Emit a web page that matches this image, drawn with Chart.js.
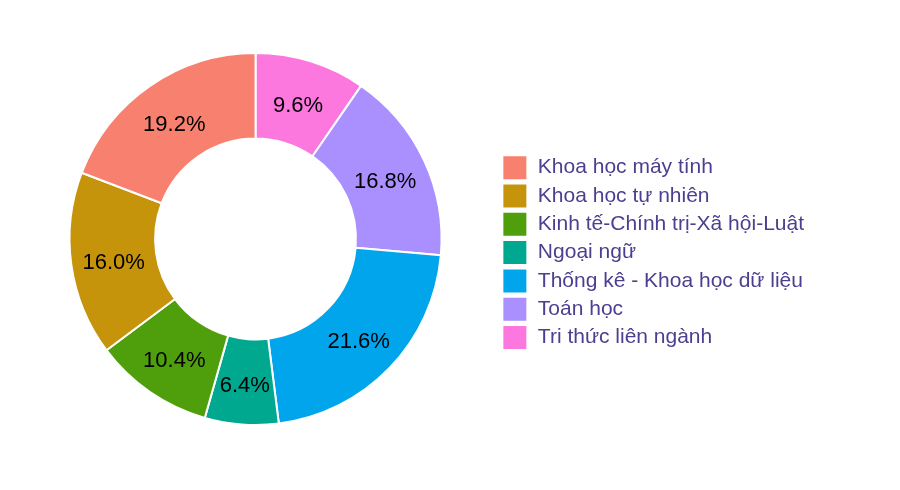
<!doctype html>
<html>
<head>
    <meta charset="UTF-8">
    <title>Donut chart</title>
    <style>
        body { margin: 0; background: #fff; }
    </style>
</head>
<body>
<canvas id="myCanvas" width="900" height="490"></canvas>
<script src="https://cdn.jsdelivr.net/npm/chart.js@4.4.1/dist/chart.umd.min.js"></script>
<script>
    // legend order (ggplot draws these counter-clockwise from 12 o'clock)
    const categories = [
        'Khoa học máy tính',
        'Khoa học tự nhiên',
        'Kinh tế-Chính trị-Xã hội-Luật',
        'Ngoại ngữ',
        'Thống kê - Khoa học dữ liệu',
        'Toán học',
        'Tri thức liên ngành'
    ];
    const percents = [19.2, 16.0, 10.4, 6.4, 21.6, 16.8, 9.6];
    const colors = ['#F8806F', '#C6940A', '#4E9F0B', '#00A88F', '#00A5EC', '#AA8FFF', '#FC77DE'];

    // chart.js goes clockwise, so feed it reversed and flip the legend back
    const labelsRev = categories.slice().reverse();
    const valuesRev = percents.slice().reverse();
    const colorsRev = colors.slice().reverse();

    const sliceLabels = {
        id: 'sliceLabels',
        afterDatasetsDraw(chart) {
            const ctx = chart.ctx;
            const meta = chart.getDatasetMeta(0);
            ctx.save();
            ctx.font = '22px "Liberation Sans", Arial, sans-serif';
            ctx.fillStyle = '#000';
            ctx.textAlign = 'center';
            ctx.textBaseline = 'middle';
            meta.data.forEach(function(arc, i) {
                const p = arc.getCenterPoint();
                ctx.fillText(valuesRev[i].toFixed(1) + '%', p.x, p.y + 4);
            });
            ctx.restore();
        }
    };

    const ctx = document.getElementById('myCanvas').getContext('2d');
    const myChart = new Chart(ctx, {
        type: 'doughnut',
        data: {
            labels: labelsRev,
            datasets: [{
                data: valuesRev,
                backgroundColor: colorsRev,
                borderColor: '#fff',
                borderWidth: 2
            }]
        },
        options: {
            responsive: false,
            animation: false,
            cutout: '54%',
            layout: { padding: { left: 12, right: 86, top: 52, bottom: 64 } },
            plugins: {
                tooltip: { enabled: false },
                legend: {
                    position: 'right',
                    reverse: true,
                    // empty title only to push the key down a little
                    title: { display: true, text: '', font: { size: 1 }, padding: { top: 26, bottom: 0 } },
                    labels: {
                        color: '#4B3F8F',
                        font: { family: '"Liberation Sans", Arial, sans-serif', size: 21 },
                        boxWidth: 25,
                        boxHeight: 25,
                        padding: 3.3
                    }
                }
            }
        },
        plugins: [sliceLabels]
    });
</script>
</body>
</html>
